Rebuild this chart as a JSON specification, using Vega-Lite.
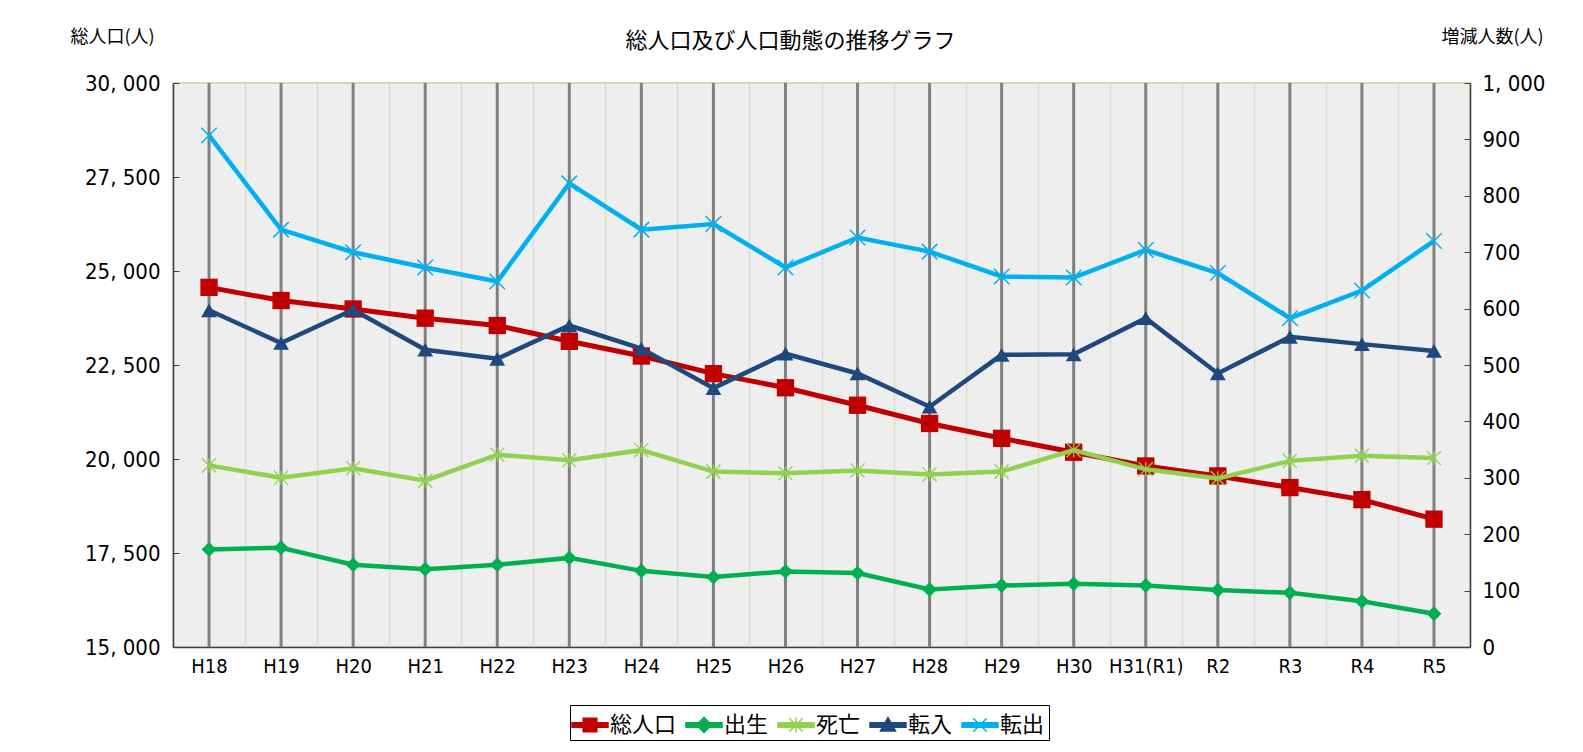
{
  "$schema": "https://vega.github.io/schema/vega-lite/v6.json",
  "width": 1297,
  "height": 564,
  "autosize": "none",
  "padding": {"left": 173, "top": 83, "right": 113, "bottom": 105},
  "background": "white",
  "view": {"fill": "#EEEEEE", "stroke": "#D9D5BF", "strokeWidth": 2},
  "title": {"text": "総人口及び人口動態の推移グラフ", "font": "Noto Sans CJK JP", "fontSize": 22, "fontWeight": "normal", "color": "#000000", "offset": -25, "dx": -31},
  "data": {"values": [
    {"year": "H18", "series": "総人口", "value": 24565},
    {"year": "H19", "series": "総人口", "value": 24215},
    {"year": "H20", "series": "総人口", "value": 23990},
    {"year": "H21", "series": "総人口", "value": 23745},
    {"year": "H22", "series": "総人口", "value": 23550},
    {"year": "H23", "series": "総人口", "value": 23130},
    {"year": "H24", "series": "総人口", "value": 22740},
    {"year": "H25", "series": "総人口", "value": 22270},
    {"year": "H26", "series": "総人口", "value": 21895},
    {"year": "H27", "series": "総人口", "value": 21430},
    {"year": "H28", "series": "総人口", "value": 20945},
    {"year": "H29", "series": "総人口", "value": 20550},
    {"year": "H30", "series": "総人口", "value": 20180},
    {"year": "H31(R1)", "series": "総人口", "value": 19815},
    {"year": "R2", "series": "総人口", "value": 19550},
    {"year": "R3", "series": "総人口", "value": 19240},
    {"year": "R4", "series": "総人口", "value": 18920},
    {"year": "R5", "series": "総人口", "value": 18400},
    {"year": "H18", "series": "出生", "value": 173},
    {"year": "H19", "series": "出生", "value": 176},
    {"year": "H20", "series": "出生", "value": 146},
    {"year": "H21", "series": "出生", "value": 138},
    {"year": "H22", "series": "出生", "value": 146},
    {"year": "H23", "series": "出生", "value": 158},
    {"year": "H24", "series": "出生", "value": 135},
    {"year": "H25", "series": "出生", "value": 124},
    {"year": "H26", "series": "出生", "value": 134},
    {"year": "H27", "series": "出生", "value": 131},
    {"year": "H28", "series": "出生", "value": 102},
    {"year": "H29", "series": "出生", "value": 109},
    {"year": "H30", "series": "出生", "value": 112},
    {"year": "H31(R1)", "series": "出生", "value": 109},
    {"year": "R2", "series": "出生", "value": 101},
    {"year": "R3", "series": "出生", "value": 96},
    {"year": "R4", "series": "出生", "value": 81},
    {"year": "R5", "series": "出生", "value": 59},
    {"year": "H18", "series": "死亡", "value": 322},
    {"year": "H19", "series": "死亡", "value": 300},
    {"year": "H20", "series": "死亡", "value": 317},
    {"year": "H21", "series": "死亡", "value": 295},
    {"year": "H22", "series": "死亡", "value": 341},
    {"year": "H23", "series": "死亡", "value": 331},
    {"year": "H24", "series": "死亡", "value": 349},
    {"year": "H25", "series": "死亡", "value": 311},
    {"year": "H26", "series": "死亡", "value": 308},
    {"year": "H27", "series": "死亡", "value": 313},
    {"year": "H28", "series": "死亡", "value": 306},
    {"year": "H29", "series": "死亡", "value": 311},
    {"year": "H30", "series": "死亡", "value": 349},
    {"year": "H31(R1)", "series": "死亡", "value": 315},
    {"year": "R2", "series": "死亡", "value": 299},
    {"year": "R3", "series": "死亡", "value": 330},
    {"year": "R4", "series": "死亡", "value": 339},
    {"year": "R5", "series": "死亡", "value": 335},
    {"year": "H18", "series": "転入", "value": 597},
    {"year": "H19", "series": "転入", "value": 539},
    {"year": "H20", "series": "転入", "value": 598},
    {"year": "H21", "series": "転入", "value": 527},
    {"year": "H22", "series": "転入", "value": 511},
    {"year": "H23", "series": "転入", "value": 570},
    {"year": "H24", "series": "転入", "value": 529},
    {"year": "H25", "series": "転入", "value": 459},
    {"year": "H26", "series": "転入", "value": 520},
    {"year": "H27", "series": "転入", "value": 485},
    {"year": "H28", "series": "転入", "value": 426},
    {"year": "H29", "series": "転入", "value": 518},
    {"year": "H30", "series": "転入", "value": 519},
    {"year": "H31(R1)", "series": "転入", "value": 583},
    {"year": "R2", "series": "転入", "value": 485},
    {"year": "R3", "series": "転入", "value": 550},
    {"year": "R4", "series": "転入", "value": 537},
    {"year": "R5", "series": "転入", "value": 525},
    {"year": "H18", "series": "転出", "value": 907},
    {"year": "H19", "series": "転出", "value": 740},
    {"year": "H20", "series": "転出", "value": 700},
    {"year": "H21", "series": "転出", "value": 673},
    {"year": "H22", "series": "転出", "value": 648},
    {"year": "H23", "series": "転出", "value": 822},
    {"year": "H24", "series": "転出", "value": 740},
    {"year": "H25", "series": "転出", "value": 750},
    {"year": "H26", "series": "転出", "value": 673},
    {"year": "H27", "series": "転出", "value": 726},
    {"year": "H28", "series": "転出", "value": 701},
    {"year": "H29", "series": "転出", "value": 657},
    {"year": "H30", "series": "転出", "value": 655},
    {"year": "H31(R1)", "series": "転出", "value": 704},
    {"year": "R2", "series": "転出", "value": 663},
    {"year": "R3", "series": "転出", "value": 583},
    {"year": "R4", "series": "転出", "value": 632},
    {"year": "R5", "series": "転出", "value": 720}
  ]},
  "encoding": {
    "x": {
      "field": "year", "type": "nominal",
      "sort": ["H18","H19","H20","H21","H22","H23","H24","H25","H26","H27","H28","H29","H30","H31(R1)","R2","R3","R4","R5"],
      "scale": {"type": "band", "paddingInner": 0, "paddingOuter": 0},
      "axis": {"title": null, "labelAngle": 0, "labelFont": "DejaVu Sans Condensed, Noto Sans", "labelFontSize": 20, "labelColor": "#000000", "labelPadding": 9, "ticks": false, "tickBand": "extent", "grid": true, "gridColor": "#DCDCCC", "gridWidth": 1.5, "domainColor": "#404040", "domainWidth": 1.5}
    },
    "color": {
      "field": "series", "type": "nominal",
      "scale": {"domain": ["総人口","出生","死亡","転入","転出"], "range": ["#C00000","#00B050","#92D050","#1F497D","#00B0F0"]},
      "legend": {
        "orient": "none", "legendX": 397, "legendY": 622, "direction": "horizontal", "title": null,
        "strokeColor": "#000000", "fillColor": "#FFFFFF", "padding": 4,
        "labelFont": "Noto Sans CJK JP", "labelFontSize": 22, "labelColor": "#000000", "labelOffset": 4, "columnPadding": 6,
        "symbolSize": 900,
        "encode": {"symbols": {"update": {
          "shape": {"signal": "datum.value === '総人口' ? 'M-1.2,-0.15L1.2,-0.15L1.2,0.15L-1.2,0.15ZM-0.45,-0.45L0.45,-0.45L0.45,0.45L-0.45,0.45Z' : datum.value === '出生' ? 'M-1.2,-0.15L1.2,-0.15L1.2,0.15L-1.2,0.15ZM0,-0.5L0.5,0L0,0.5L-0.5,0Z' : datum.value === '死亡' ? 'M-1.2,-0.15L1.2,-0.15L1.2,0.15L-1.2,0.15ZM0,-0.5L0,0.5M-0.45,-0.45L0.45,0.45M-0.45,0.45L0.45,-0.45' : datum.value === '転入' ? 'M-1.2,-0.15L1.2,-0.15L1.2,0.15L-1.2,0.15ZM0,-0.5L0.5,0.4L-0.5,0.4Z' : 'M-1.2,-0.15L1.2,-0.15L1.2,0.15L-1.2,0.15ZM-0.45,-0.45L0.45,0.45M-0.45,0.45L0.45,-0.45'"},
          "fill": {"scale": "color", "field": "value"},
          "stroke": {"scale": "color", "field": "value"},
          "strokeWidth": {"value": 1.5},
          "size": {"value": 900},
          "opacity": {"value": 1},
          "strokeDash": {"value": []}
        }}}
      }
    }
  },
  "layer": [
    {
      "transform": [{"filter": "datum.series === '総人口'"}],
      "mark": {"type": "rule", "strokeWidth": 3},
      "encoding": {"color": {"value": "#808080"}}
    },
    {
      "transform": [{"filter": "datum.series === '総人口'"}],
      "encoding": {
        "y": {"field": "value", "type": "quantitative",
          "scale": {"domain": [15000, 30000], "nice": false, "zero": false},
          "axis": {"orient": "left", "values": [15000,17500,20000,22500,25000,27500,30000],
            "labelExpr": "replace(format(datum.value, ','), ',', ', ')",
            "labelFont": "DejaVu Sans Condensed, Noto Sans", "labelFontSize": 22, "labelColor": "#000000", "labelPadding": 19,
            "tickSize": -6, "tickColor": "#404040", "domainColor": "#404040", "domainWidth": 1.5, "grid": false,
            "title": "総人口(人)", "titleAngle": 0, "titleX": -61, "titleY": -46, "titleAlign": "center", "titleBaseline": "middle",
            "titleFont": "Noto Sans CJK JP", "titleFontSize": 18, "titleFontWeight": "normal", "titleColor": "#000000"}}
      },
      "layer": [
        {"mark": {"type": "line", "strokeWidth": 5}, "encoding": {}},
        {"mark": {"type": "point", "filled": true, "opacity": 1, "size": 300, "shape": "square"}}
      ]
    },
    {
      "transform": [{"filter": "datum.series !== '総人口'"}],
      "encoding": {
        "y": {"field": "value", "type": "quantitative",
          "scale": {"domain": [0, 1000], "nice": false},
          "axis": {"orient": "right", "values": [0,100,200,300,400,500,600,700,800,900,1000],
            "labelExpr": "replace(format(datum.value, ','), ',', ', ')",
            "labelFont": "DejaVu Sans Condensed, Noto Sans", "labelFontSize": 22, "labelColor": "#000000", "labelPadding": 18,
            "tickSize": -6, "tickColor": "#404040", "domainColor": "#404040", "domainWidth": 1.5, "grid": false,
            "title": "増減人数(人)", "titleAngle": 0, "titleX": 22, "titleY": -46, "titleAlign": "center", "titleBaseline": "middle",
            "titleFont": "Noto Sans CJK JP", "titleFontSize": 18, "titleFontWeight": "normal", "titleColor": "#000000"}}
      },
      "layer": [
        {"mark": {"type": "line", "strokeWidth": 4.5}, "encoding": {}},
        {"transform": [{"filter": "datum.series === '出生'"}], "mark": {"type": "point", "filled": true, "opacity": 1, "size": 220, "shape": "diamond"}},
        {"transform": [{"filter": "datum.series === '転入'"}], "mark": {"type": "point", "filled": true, "opacity": 1, "size": 250, "shape": "triangle-up"}},
        {"transform": [{"filter": "datum.series === '死亡'"}], "mark": {"type": "point", "filled": false, "opacity": 1, "size": 200, "strokeWidth": 1.3, "shape": "M0,-1L0,1M-1,-1L1,1M-1,1L1,-1"}},
        {"transform": [{"filter": "datum.series === '転出'"}], "mark": {"type": "point", "filled": false, "opacity": 1, "size": 240, "strokeWidth": 1.5, "shape": "M-1,-1L1,1M-1,1L1,-1"}}
      ]
    }
  ],
  "resolve": {"scale": {"y": "independent"}}
}
